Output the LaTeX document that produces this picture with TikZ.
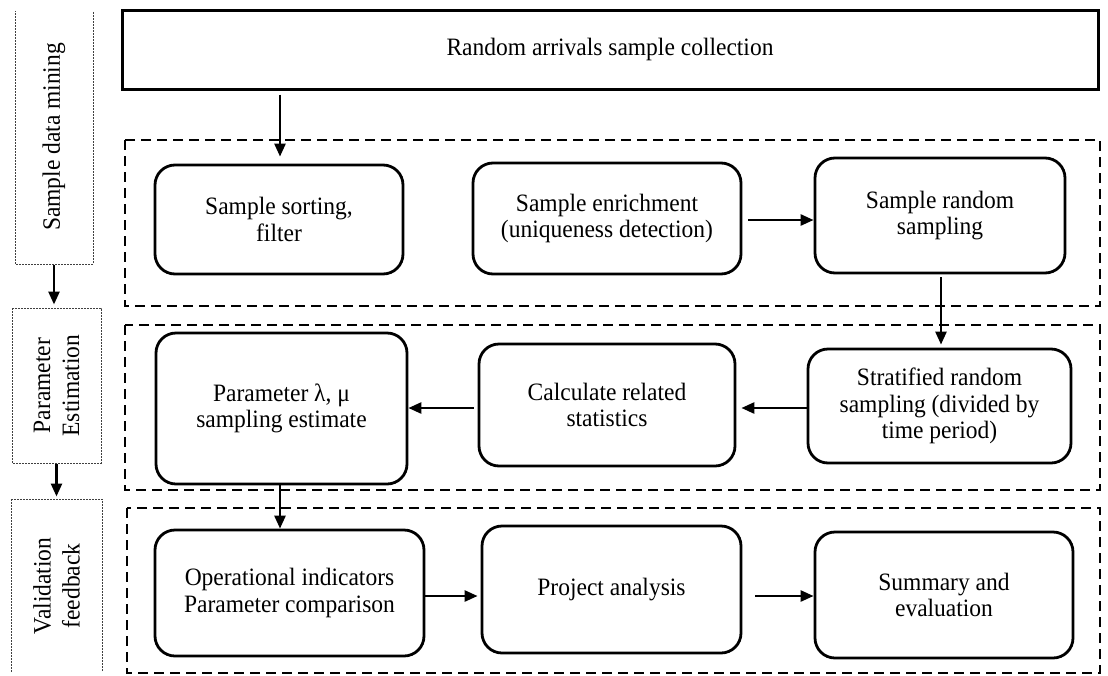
\documentclass[tikz,border=0pt]{standalone}
\usepackage{fontspec}
\setmainfont{Liberation Serif}[FakeStretch=0.94]
\usetikzlibrary{arrows.meta}
\begin{document}
\begin{tikzpicture}[x=1pt,y=-1pt,
  box/.style={draw, line width=2.8pt, rounded corners=20pt, align=center, inner sep=0pt,
    font=\fontsize{25}{26.5}\selectfont},
  topbox/.style={draw, line width=3pt, inner sep=0pt, font=\fontsize{25}{26.5}\selectfont},
  container/.style={draw, line width=2.3pt, dash pattern=on 10pt off 6pt},
  lblbox/.style={draw=black!75, line width=1pt, dash pattern=on 2pt off 1pt, rotate=90,
    align=center, inner sep=0pt, font=\fontsize{25}{29}\selectfont},
  arr/.style={line width=2.6pt, -{Triangle[length=13pt,width=11pt]}}
]
\useasboundingbox (0,0) rectangle (1108,675);

% left phase labels
\begin{scope}
\clip (0,11) rectangle (1108,671.5);
\node[lblbox, minimum width=254pt, minimum height=78pt] (l1) at (54,137) {Sample data mining};
\node[lblbox, minimum width=155pt, minimum height=89pt] (l2) at (56.5,385.5) {Parameter\\Estimation};
\node[lblbox, minimum width=174pt, minimum height=91pt] (l3) at (56.5,586) {Validation\\feedback};
\end{scope}
\draw[arr, shorten >=3pt] (l1.west) -- (l1.west |- l2.east);
\draw[arr, shorten >=2pt] (l2.west) -- (l2.west |- l3.east);

% containers
\draw[container] (125,140) rectangle (1100,306);
\draw[container] (125,325) rectangle (1100,490);
\draw[container] (127,508) rectangle (1100,673);

% top box
\node[topbox, minimum width=976pt, minimum height=79pt] (top) at (610,49.5) {Random arrivals sample collection};

% row 1
\node[box, minimum width=248pt, minimum height=109pt] (sort) at (279,219.5) {Sample sorting,\\filter};
\node[box, minimum width=268pt, minimum height=111pt] (enrich) at (607,218.5) {Sample enrichment\\(uniqueness detection)};
\node[box, minimum width=250pt, minimum height=115pt] (rand) at (940,215.5) {Sample random\\sampling};

% row 2
\node[box, minimum width=251pt, minimum height=151pt] (param) at (281.5,408.5) {Parameter λ, μ\\sampling estimate};
\node[box, minimum width=256pt, minimum height=122pt] (calc) at (607,405) {Calculate related\\statistics};
\node[box, minimum width=263pt, minimum height=114pt] (strat) at (939.5,406) {Stratified random\\sampling (divided by\\time period)};

% row 3
\node[box, minimum width=269pt, minimum height=126pt] (oper) at (289.5,593) {Operational indicators\\Parameter comparison};
\node[box, minimum width=259pt, minimum height=127pt] (proj) at (611.5,589.5) {Project analysis};
\node[box, minimum width=258pt, minimum height=126pt] (summ) at (944,595) {Summary and\\evaluation};

% connectors
\draw[arr, shorten <=4pt, shorten >=7pt] (top.south -| 280,0) -- (sort.north -| 280,0);
\draw[arr, shorten <=6pt] (enrich.east |- 0,220) -- (rand.west |- 0,220);
\draw[arr, shorten <=3pt, shorten >=3pt] (rand.south -| 941,0) -- (strat.north -| 941,0);
\draw[arr, shorten >=5pt] (strat.west |- 0,408) -- (calc.east |- 0,408);
\draw[arr, shorten <=4pt] (calc.west |- 0,408) -- (param.east |- 0,408);
\draw[arr] (param.south -| 280,0) -- (oper.north -| 280,0);
\draw[arr, shorten >=3pt] (oper.east |- 0,596) -- (proj.west |- 0,596);
\draw[arr, shorten <=13pt] (proj.east |- 0,596) -- (summ.west |- 0,596);
\end{tikzpicture}
\end{document}
